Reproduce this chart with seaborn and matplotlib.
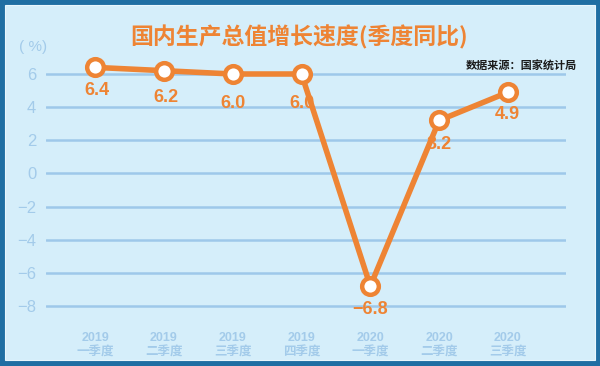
import matplotlib
matplotlib.use("Agg")
import matplotlib.pyplot as plt
import seaborn as sns
import pandas as pd
from matplotlib.patches import Rectangle

years = ["2019", "2019", "2019", "2019", "2020", "2020", "2020"]
quarters = ["一季度", "二季度", "三季度", "四季度", "一季度", "二季度", "三季度"]
values = [6.4, 6.2, 6.0, 6.0, -6.8, 3.2, 4.9]
yticks = [6, 4, 2, 0, -2, -4, -6, -8]
title = "国内生产总值增长速度(季度同比)"
source = "数据来源：国家统计局"

df = pd.DataFrame({"x": range(len(values)), "v": values})

sns.set_theme(style="white")
plt.rcParams["font.family"] = ["Liberation Sans", "Noto Sans CJK SC", "DejaVu Sans"]
plt.rcParams["axes.unicode_minus"] = True

DARK = "#1f6ea3"
BG = "#d5eefa"
ORANGE = "#ee8434"
GRID = "#9ec8ea"
TICK = "#a3cbea"

fig = plt.figure(figsize=(6, 3.66), dpi=100)
fig.patch.set_facecolor(DARK)
fig.patches.append(Rectangle((5/600, 6/366), 590/600, 355/366, transform=fig.transFigure,
                             facecolor=BG, edgecolor="#e8f6fd", linewidth=0.8, zorder=-10))

unit = (306 - 74) / 14
ylo, yhi = -9.0, 7.3
top_px = 74 - (yhi - 6) * unit
bot_px = 306 + (-8 - ylo) * unit
ax = fig.add_axes([46/600, (366 - bot_px)/366, 520/600, (bot_px - top_px)/366])
ax.set_facecolor("none")
for s in ax.spines.values():
    s.set_visible(False)

step = (508 - 95) / 6
ax.set_xlim(-(95 - 46)/step, (566 - 95)/step)
ax.set_ylim(ylo, yhi)

for t in yticks:
    ax.axhline(t, color=GRID, lw=1.8, zorder=1)

sns.lineplot(data=df, x="x", y="v", ax=ax, color=ORANGE, lw=4, zorder=3,
             marker="o", markersize=12, markerfacecolor="white",
             markeredgecolor=ORANGE, markeredgewidth=3.2)

offsets = [(0.03, -1.39), (0.03, -1.61), (0, -1.78), (0, -1.78), (0, -1.41), (0, -1.45), (-0.01, -1.34)]
for i, v in enumerate(values):
    dx, dy = offsets[i]
    ax.text(i + dx, v + dy, f"{v:.1f}".replace("-", "−"), ha="center", va="center",
            color=ORANGE, fontsize=13, fontweight="bold", zorder=10,
            family=["Liberation Sans", "DejaVu Sans"])

ax.set_yticks(yticks)
ax.set_yticklabels([str(t).replace("-", "−") for t in yticks], color=TICK, fontsize=12)
ax.tick_params(axis="y", length=0, pad=7)
ax.set_xticks(range(len(values)))
ax.set_xticklabels([f"{y}\n{q}" for y, q in zip(years, quarters)], color=TICK,
                   fontsize=9, fontweight="bold", linespacing=1.3)
ax.tick_params(axis="x", length=0, pad=7)
ax.set_xlabel("")
ax.set_ylabel("")

fig.text(33/600, 1 - 47/366, "( %)", color=TICK, fontsize=11, ha="center", va="center")
fig.text(299/600, 1 - 37/366, title, color=ORANGE, fontsize=16.5, fontweight="bold",
         ha="center", va="center", family=["Noto Sans CJK SC"])
fig.text(577/600, 1 - 66/366, source, color="#1a1a1a", fontsize=8, fontweight="bold",
         ha="right", va="center", family=["Noto Sans CJK SC"])

fig.savefig("out.png", dpi=100, facecolor=fig.get_facecolor())
